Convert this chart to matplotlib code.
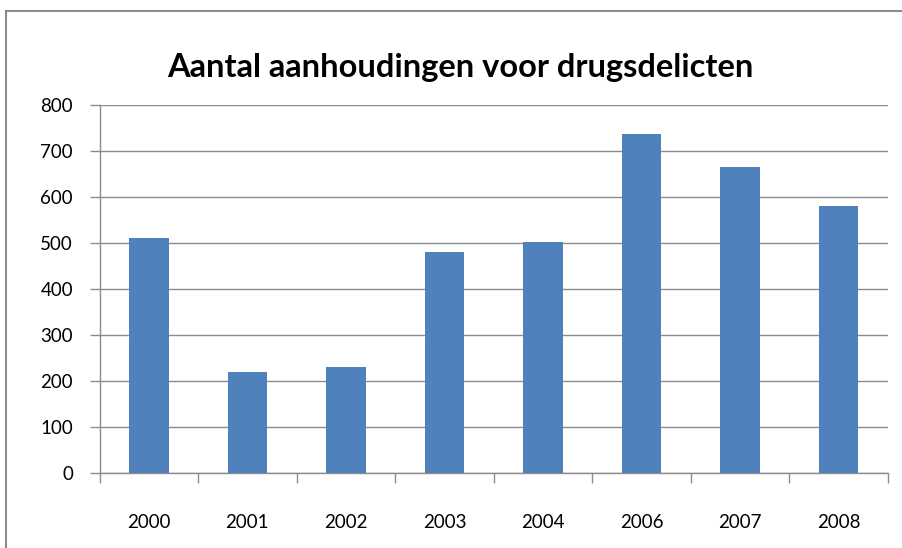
import matplotlib
matplotlib.use('Agg')
import matplotlib.pyplot as plt
from matplotlib.patches import Rectangle

plt.rcParams.update({'font.family': ['Lato', 'DejaVu Sans']})

years = ['2000', '2001', '2002', '2003', '2004', '2006', '2007', '2008']
arrests = [511, 219, 230, 480, 503, 737, 666, 580]
yticks = [0, 100, 200, 300, 400, 500, 600, 700, 800]

BAR = '#4F81BD'
GRID = '#8C8C8C'

fig = plt.figure(figsize=(9.03, 5.48), dpi=100)
ax = fig.add_axes([0.1102, 0.1374, 0.8732, 0.671])

# outer chart border (clipped by the image on right/bottom)
fig.patches.append(Rectangle((5.5 / 903, -0.1), 1.2, 1 - 11.5 / 548 + 0.1,
                             transform=fig.transFigure, fill=False,
                             edgecolor='#8C8C8C', linewidth=1.5))

x = range(len(years))
ax.bar(x, arrests, width=0.4, color=BAR, zorder=3)

ax.set_xlim(-0.5, len(years) - 0.5)
ax.set_ylim(0, 800)
ax.set_yticks(yticks)
ax.set_yticklabels([str(v) for v in yticks], fontsize=13.5)
ax.set_xticks(list(x))
ax.set_xticklabels(years, fontsize=13.5)
ax.tick_params(axis='x', length=0, pad=30)
ax.set_xticks([i - 0.5 for i in range(len(years) + 1)], minor=True)
ax.tick_params(axis='x', which='minor', length=7, color=GRID, width=1)
ax.tick_params(axis='y', length=7, color=GRID, width=1, pad=12)

ax.yaxis.grid(True, color=GRID, linewidth=1, zorder=0)
ax.set_axisbelow(True)
for s in ['top', 'right']:
    ax.spines[s].set_visible(False)
for s in ['left', 'bottom']:
    ax.spines[s].set_color(GRID)
    ax.spines[s].set_linewidth(1)

fig.text(460 / 903, 1 - 77 / 548, 'Aantal aanhoudingen voor drugsdelicten',
         ha='center', va='baseline', fontsize=23.5, fontweight='bold')

fig.savefig('out.png', dpi=100)
